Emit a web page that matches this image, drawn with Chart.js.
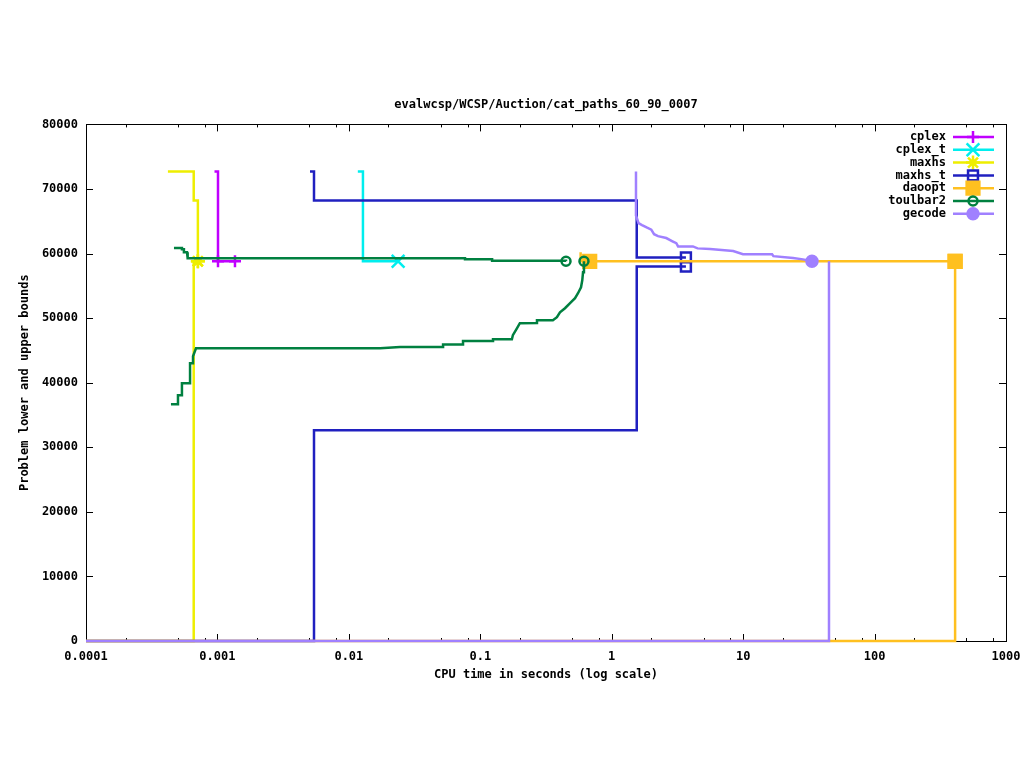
<!DOCTYPE html>
<html>
<head>
<meta charset="utf-8">
<script src="https://cdn.jsdelivr.net/npm/chart.js@4/dist/chart.umd.min.js"></script>
<style>
	html, body { margin: 0; padding: 0; background: #fff; }
</style>
</head>
<body>
<canvas id="boundsChart" width="1024" height="768"></canvas>
<script>
// solver names, in the order gnuplot drew them
const solverNames = ["cplex", "cplex_t", "maxhs", "maxhs_t", "daoopt", "toulbar2", "gecode"];

// [cpu seconds, bound]
const cplexUpper = [[0.00095, 72700], [0.00101, 72700], [0.00101, 58800], [0.00136, 58800]];
const cplexLower = [[0.00101, 58800]];
const cplexTUpper = [[0.0117, 72700], [0.0128, 72700], [0.0128, 58800], [0.0237, 58800]];
const maxhsUpper = [[0.00042, 72700], [0.00066, 72700], [0.00066, 68200], [0.00071, 68200], [0.00071, 58800]];
const maxhsLower = [[0.0001, 0], [0.00066, 0], [0.00066, 58800], [0.00071, 58800]];
const maxhsTUpper = [[0.00506, 72700], [0.00543, 72700], [0.00543, 68200], [1.55, 68200], [1.55, 59400], [3.67, 59400]];
const maxhsTLower = [[0.0001, 0], [0.00543, 0], [0.00543, 32650], [1.55, 32650], [1.55, 58000], [3.67, 58000]];
const daooptUpper = [[0.58, 60200], [0.58, 58800], [0.68, 58800], [410, 58800]];
const daooptLower = [[0.0001, 0], [410, 0], [410, 58800]];
const toulbar2Upper = [
	[0.000467, 60870], [0.000537, 60870], [0.000537, 60660], [0.000556, 60660],
	[0.000556, 60200], [0.000587, 60200], [0.000587, 59730], [0.000597, 59730],
	[0.000597, 59260], [0.0765, 59260], [0.0765, 59100], [0.123, 59100],
	[0.123, 58900], [0.449, 58900], [0.449, 58800],
];
const toulbar2Lower = [
	[0.000443, 36670], [0.000501, 36670], [0.000501, 38070], [0.000537, 38070],
	[0.000537, 39920], [0.000619, 39920], [0.000619, 43020], [0.000652, 43020],
	[0.000652, 44100], [0.000687, 45340], [0.0173, 45340], [0.0245, 45540],
	[0.0521, 45540], [0.0521, 45910], [0.0739, 45910], [0.0739, 46470],
	[0.125, 46470], [0.125, 46730], [0.174, 46730], [0.177, 47350],
	[0.19, 48430], [0.2, 49210], [0.27, 49250], [0.27, 49670],
	[0.357, 49670], [0.383, 50140], [0.404, 50910], [0.441, 51530],
	[0.48, 52300], [0.526, 53080], [0.554, 53850], [0.584, 54780],
	[0.597, 55860], [0.605, 57100], [0.615, 58500], [0.615, 58800],
];
const gecodeUpper = [
	[1.53, 72700], [1.53, 65900], [1.6, 64700], [1.7, 64400], [1.86, 64000],
	[2.0, 63700], [2.1, 63000], [2.25, 62700], [2.6, 62400], [2.9, 61900],
	[3.1, 61600], [3.2, 61100], [4.15, 61100], [4.5, 60800], [5.6, 60700],
	[8.4, 60400], [9.97, 59900], [16.6, 59900], [17, 59600], [24, 59300],
	[28.5, 59100], [33.4, 58800],
];
const gecodeLower = [[0.0001, 0], [45, 0], [45, 58800]];

const xMajorTicks = [0.0001, 0.001, 0.01, 0.1, 1, 10, 100, 1000];
const xTickLabels = ["0.0001", "0.001", "0.01", "0.1", "1", "10", "100", "1000"];
const xMinorSteps = [2, 5, 8];

// look of each solver
const solverStyle = {
	cplex: { color: "#c000ff", point: "cross", radius: 6, fill: false },
	cplex_t: { color: "#00eeee", point: "crossRot", radius: 9, fill: false },
	maxhs: { color: "#eeee00", point: "star", radius: 7, fill: false },
	maxhs_t: { color: "#2020c0", point: "rect", radius: 7, fill: false },
	daoopt: { color: "#ffc020", point: "rect", radius: 9, fill: true },
	toulbar2: { color: "#008040", point: "circle", radius: 4.5, fill: false },
	gecode: { color: "#a080ff", point: "circle", radius: 5.5, fill: true },
};

const monoFont = "'DejaVu Sans Mono', 'Liberation Mono', monospace";

function makeLine(name, points, marks) {
	const st = solverStyle[name];
	return {
		label: name,
		data: points.map((p) => ({ x: p[0], y: p[1] })),
		showLine: true,
		borderColor: st.color,
		backgroundColor: st.fill ? st.color : "rgba(0,0,0,0)",
		borderWidth: 2.5,
		pointStyle: st.point,
		pointBorderWidth: 2.5,
		pointRadius: (ctx) => (marks.includes(ctx.dataIndex) ? st.radius : 0),
		pointHoverRadius: 0,
		tension: 0,
		clip: 6,
		order: solverNames.length - solverNames.indexOf(name),
	};
}

const datasets = [
	makeLine("cplex", cplexLower, [0]),
	makeLine("cplex", cplexUpper, [3]),
	makeLine("cplex_t", cplexTUpper, [3]),
	makeLine("maxhs", maxhsLower, [3]),
	makeLine("maxhs", maxhsUpper, [4]),
	makeLine("maxhs_t", maxhsTLower, [5]),
	makeLine("maxhs_t", maxhsTUpper, [5]),
	makeLine("daoopt", daooptLower, [2]),
	makeLine("daoopt", daooptUpper, [2, 3]),
	makeLine("toulbar2", toulbar2Lower, [toulbar2Lower.length - 1]),
	makeLine("toulbar2", toulbar2Upper, [toulbar2Upper.length - 1]),
	makeLine("gecode", gecodeLower, []),
	makeLine("gecode", gecodeUpper, [gecodeUpper.length - 1]),
];

// gnuplot style border with inward ticks on all four sides
const gnuplotFrame = {
	id: "gnuplotFrame",
	beforeDatasetsDraw(chart) {
		const { ctx, chartArea: a, scales } = chart;
		const crisp = (v) => Math.round(v) + 0.5;
		ctx.save();
		ctx.strokeStyle = "#000";
		ctx.lineWidth = 1;
		ctx.strokeRect(crisp(a.left), crisp(a.top), Math.round(a.right - a.left), Math.round(a.bottom - a.top));
		ctx.beginPath();
		scales.y.ticks.forEach((t) => {
			const py = crisp(scales.y.getPixelForValue(t.value));
			ctx.moveTo(a.left, py);
			ctx.lineTo(a.left + 7, py);
			ctx.moveTo(a.right, py);
			ctx.lineTo(a.right - 7, py);
		});
		scales.x.ticks.forEach((t) => {
			const px = crisp(scales.x.getPixelForValue(t.value));
			const len = t.major ? 7 : 3;
			ctx.moveTo(px, a.bottom);
			ctx.lineTo(px, a.bottom - len);
			ctx.moveTo(px, a.top);
			ctx.lineTo(px, a.top + len);
		});
		ctx.stroke();
		ctx.restore();
	},
	afterDraw(chart) {
		// key in the top right corner
		const ctx = chart.ctx;
		ctx.save();
		ctx.font = "bold 12px " + monoFont;
		ctx.textAlign = "right";
		ctx.textBaseline = "middle";
		solverNames.forEach((name, i) => {
			const st = solverStyle[name];
			const y = 137 + i * 12.8;
			ctx.fillStyle = "#000";
			ctx.fillText(name, 946, y);
			ctx.strokeStyle = st.color;
			ctx.lineWidth = 2.5;
			ctx.beginPath();
			ctx.moveTo(953, y);
			ctx.lineTo(994, y);
			ctx.stroke();
			ctx.fillStyle = st.fill ? st.color : "rgba(0,0,0,0)";
			Chart.helpers.drawPoint(ctx, { pointStyle: st.point, radius: st.radius, rotation: 0, borderWidth: 2.5 }, 973, y);
		});
		ctx.restore();
	},
};

const ctx = document.getElementById("boundsChart").getContext("2d");
new Chart(ctx, {
	type: "scatter",
	data: { datasets: datasets },
	options: {
		responsive: false,
		animation: false,
		events: [],
		devicePixelRatio: 1,
		layout: { padding: { top: 0, right: 18, bottom: 0, left: 0 } },
		plugins: {
			legend: { display: false },
			tooltip: { enabled: false },
			title: {
				display: true,
				text: "evalwcsp/WCSP/Auction/cat_paths_60_90_0007",
				fullSize: false,
				color: "#000",
				font: { family: monoFont, size: 12, weight: "bold" },
				padding: { top: 98, bottom: 12 },
			},
		},
		scales: {
			x: {
				type: "logarithmic",
				min: 0.0001,
				max: 1000,
				afterBuildTicks: (scale) => {
					const ticks = [];
					xMajorTicks.forEach((v, i) => {
						ticks.push({ value: v, major: true });
						if (i < xMajorTicks.length - 1) {
							xMinorSteps.forEach((m) => ticks.push({ value: v * m, major: false }));
						}
					});
					scale.ticks = ticks;
				},
				afterFit: (scale) => {
					scale.height = 127;
					scale.paddingLeft = 0;
					scale.paddingRight = 0;
				},
				grid: { display: false },
				border: { display: false },
				ticks: {
					autoSkip: false,
					maxRotation: 0,
					color: "#000",
					padding: 1,
					font: { family: monoFont, size: 12, weight: "bold" },
					callback: (v) => {
						const i = xMajorTicks.indexOf(v);
						return i >= 0 ? xTickLabels[i] : "";
					},
				},
				title: {
					display: true,
					text: "CPU time in seconds (log scale)",
					color: "#000",
					font: { family: monoFont, size: 12, weight: "bold" },
					padding: { top: 0, bottom: 86 },
				},
			},
			y: {
				min: 0,
				max: 80000,
				afterFit: (scale) => {
					scale.width = 86;
				},
				grid: { display: false },
				border: { display: false },
				ticks: {
					stepSize: 10000,
					color: "#000",
					padding: 0,
					font: { family: monoFont, size: 12, weight: "bold" },
					callback: (v) => String(v),
				},
				title: {
					display: true,
					text: "Problem lower and upper bounds",
					color: "#000",
					font: { family: monoFont, size: 12, weight: "bold" },
					padding: { top: 18, bottom: 0 },
				},
			},
		},
	},
	plugins: [gnuplotFrame],
});
</script>
</body>
</html>
